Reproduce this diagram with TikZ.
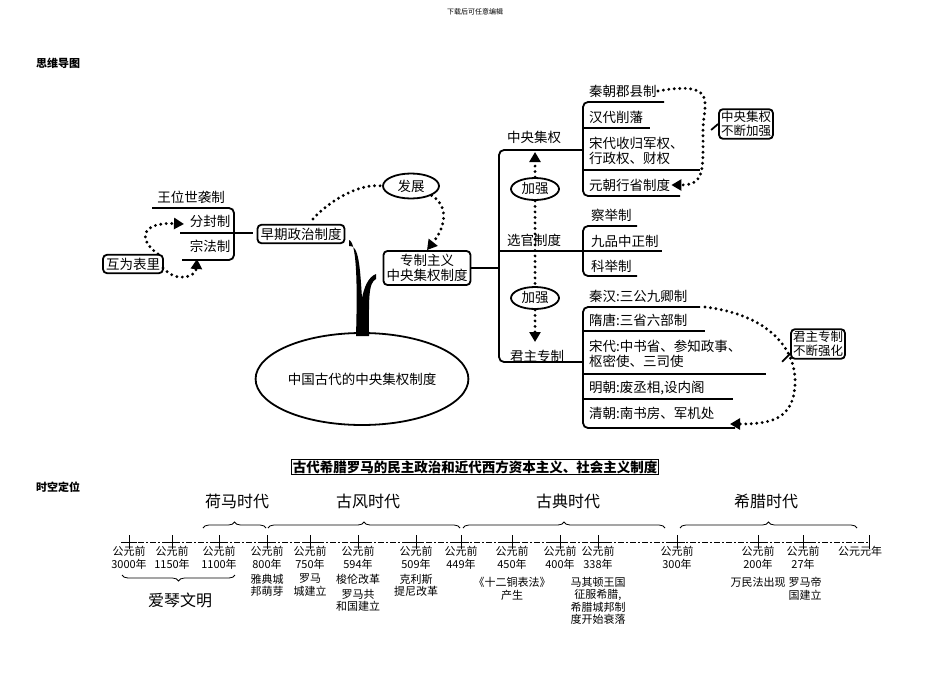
\documentclass[tikz,border=0pt]{standalone}
\usepackage{fontspec}
\setmainfont{Noto Sans CJK SC}
\usetikzlibrary{arrows.meta,decorations.pathreplacing,shapes.geometric}
\begin{document}
\begin{tikzpicture}[x=1pt,y=-1pt,
  box/.style={draw,line width=1.8pt,rounded corners=4pt,font=\fontsize{13.5}{15.5}\selectfont,align=center,inner sep=3pt},
  lbl/.style={font=\fontsize{13.5}{15.5}\selectfont,inner sep=1pt},
  br/.style={line width=1.8pt,rounded corners=5pt},
  dots/.style={line width=3.2pt,dash pattern=on 0pt off 5.5pt,line cap=round},
  tip/.style={-{Triangle[length=10pt,width=11pt]}},
  tl/.style={font=\fontsize{11}{12.5}\selectfont,align=center,inner sep=0pt,anchor=north},
  per/.style={font=\fontsize{16}{18}\selectfont},
  brc/.style={decorate,decoration={brace,amplitude=6pt},line width=0.8pt}]
\useasboundingbox (0,0) rectangle (950,672);
\node[font=\fontsize{7}{8}\selectfont] (hdr) at (475,12) {下载后可任意编辑};
\node[font=\bfseries\fontsize{11}{13}\selectfont] (t1) at (58,63) {思维导图};
% left part
\node[lbl] (wang) at (191,197) {王位世袭制};
\node[lbl] (fen) at (210,221) {分封制};
\node[lbl] (zong) at (210,246) {宗法制};
\draw[br] (152,208) -- (234,208) -- (234,260) -- (182,260);
\draw[line width=1.8pt] (180,233) -- (253,233);
\node[box] (hu) at (133,264) {互为表里};
\node[box] (zao) at (301,234) {早期政治制度};
\draw[dots,tip] (158,254) .. controls (138,240) and (140,222) .. (184,224);
\draw[dots,tip] (163,268) .. controls (178,284) and (196,276) .. (197,259);
\node[draw,ellipse,line width=1.8pt,lbl,minimum width=56pt,minimum height=25pt] (fz) at (411,186) {发展};
\node[box] (zz) at (427,268) {专制主义\\中央集权制度};
\draw[dots] (313,219) .. controls (330,200) and (360,183) .. (fz.west);
\draw[dots,tip] (fz.south east) .. controls (448,205) and (447,225) .. (zz.north);
\fill (349,240) .. controls (358,242) and (357,300) .. (356,336) -- (369,336) .. controls (369,300) and (368,283) .. (376,279) -- (376,274) .. controls (368,277) and (364,288) .. (362,298) .. controls (360,268) and (359,244) .. (349,246) -- cycle;
\node[draw,ellipse,line width=1.8pt,minimum width=198pt,minimum height=92pt,lbl] (core) at (362,379) {中国古代的中央集权制度};
% trunk right
\draw[br] (zz.east) -- (499,268);
\draw[br] (583,150) -- (499,150) -- (499,362) -- (583,362);
\draw[br] (499,251) -- (583,251);
\node[lbl] (zy) at (534,137) {中央集权};
\node[lbl] (xg) at (534,240) {选官制度};
\node[lbl] (jz) at (537,356) {君主专制};
% group 1
\draw[br] (664,102) -- (583,102) -- (583,196) -- (680,196);
\draw[line width=1.8pt] (583,128) -- (650,128) (583,170) -- (700,170);
\node[lbl,anchor=west] (q1) at (588,91) {秦朝郡县制};
\node[lbl,anchor=west] (q2) at (588,117) {汉代削藩};
\node[lbl,anchor=west,align=left] (q3) at (588,151) {宋代收归军权、\\行政权、财权};
\node[lbl,anchor=west] (q4) at (588,185) {元朝行省制度};
\node[box,font=\fontsize{12.5}{14}\selectfont,inner sep=2pt] (c1) at (746,124) {中央集权\\不断加强};
\draw[line width=1.8pt] (c1.west) -- ++(-7,6);
\draw[dots,tip] (q1.east) .. controls (720,80) and (703,105) .. (703,130) .. controls (703,170) and (705,185) .. (q4.east);
% 加强
\node[draw,ellipse,line width=1.8pt,lbl,minimum width=48pt,minimum height=22pt] (jq1) at (535,189) {加强};
\node[draw,ellipse,line width=1.8pt,lbl,minimum width=48pt,minimum height=22pt] (jq2) at (535,298) {加强};
\draw[dots,tip] (jq1.north) -- (535,152);
\draw[dots] (jq1.south) -- (jq2.north);
\draw[dots,tip] (jq2.south) -- (535,342);
% group 2
\draw[br] (637,226) -- (583,226) -- (583,276) -- (637,276);
\draw[line width=1.8pt] (583,251) -- (662,251);
\node[lbl,anchor=west] (x1) at (590,215) {察举制};
\node[lbl,anchor=west] (x2) at (590,241) {九品中正制};
\node[lbl,anchor=west] (x3) at (590,266) {科举制};
% group 3
\draw[br] (700,307) -- (583,307) -- (583,428) -- (735,428);
\draw[line width=1.8pt] (583,331) -- (705,331) (583,374) -- (766,374) (583,399) -- (733,399);
\node[lbl,anchor=west] (j1) at (588,296) {秦汉:三公九卿制};
\node[lbl,anchor=west] (j2) at (588,320) {隋唐:三省六部制};
\node[lbl,anchor=west,align=left] (j3) at (588,354) {宋代:中书省、参知政事、\\枢密使、三司使};
\node[lbl,anchor=west] (j4) at (588,388) {明朝:废丞相,设内阁};
\node[lbl,anchor=west] (j5) at (588,413) {清朝:南书房、军机处};
\node[box,font=\fontsize{12.5}{14}\selectfont,inner sep=2pt] (c2) at (818,344) {君主专制\\不断强化};
\draw[line width=1.8pt] (c2.south west) ++(0,-6) -- ++(-8,8);
\coordinate (a3) at (705,307);
\draw[dots,tip] (a3) .. controls (770,315) and (797,350) .. (795,385) .. controls (793,420) and (770,424) .. (730,424);
% lower part
\node[draw,line width=0.9pt,font=\bfseries\fontsize{13.5}{15}\selectfont,inner sep=1pt] (title) at (475,467) {古代希腊罗马的民主政治和近代西方资本主义、社会主义制度};
\node[font=\bfseries\fontsize{11}{13}\selectfont] (t2) at (58,487) {时空定位};
\coordinate (l0) at (126,542);
\coordinate (l1) at (869,542);
\draw[line width=0.8pt,dash pattern=on 6pt off 2pt on 2pt off 2pt] (l0) -- (l1);
\foreach \x/\a/\b in {129/公元前/3000年,172/公元前/1150年,219/公元前/1100年,267/公元前/800年,310/公元前/750年,358/公元前/594年,416/公元前/509年,461/公元前/449年,512/公元前/450年,560/公元前/400年,598/公元前/338年,677/公元前/300年,758/公元前/200年,803/公元前/27年}{
  \draw[line width=0.8pt] (\x,535) -- (\x,549) (\x-8,542) -- (\x+8,542);
  \node[tl] at (\x,546) {\a\\\b};
}
\draw[line width=0.8pt] (869,535) -- (869,549);
\node[tl] (yuan) at (860,546) {公元元年};
\node[tl] (e1) at (267,574) {雅典城\\邦萌芽};
\node[tl] (e2) at (310,574) {罗马\\城建立};
\node[tl] (e3) at (358,574) {梭伦改革\\[2pt]罗马共\\和国建立};
\node[tl] (e4) at (416,574) {克利斯\\提尼改革};
\node[tl] (e5) at (512,577) {《十二铜表法》\\产生};
\node[tl] (e6) at (598,577) {马其顿王国\\征服希腊,\\希腊城邦制\\度开始衰落};
\node[tl] (e7) at (758,577) {万民法出现};
\node[tl] (e8) at (805,577) {罗马帝\\国建立};
\draw[brc] (203,528) -- (266,528);
\draw[brc] (268,528) -- (460,528);
\draw[brc] (463,528) -- (665,528);
\draw[brc] (680,528) -- (857,528);
\draw[brc] (235,575) -- (122,575);
\node[per] (p1) at (237,501) {荷马时代};
\node[per] (p2) at (368,501) {古风时代};
\node[per] (p3) at (568,501) {古典时代};
\node[per] (p4) at (766,501) {希腊时代};
\node[per] (p5) at (180,600) {爱琴文明};
\end{tikzpicture}
\end{document}
